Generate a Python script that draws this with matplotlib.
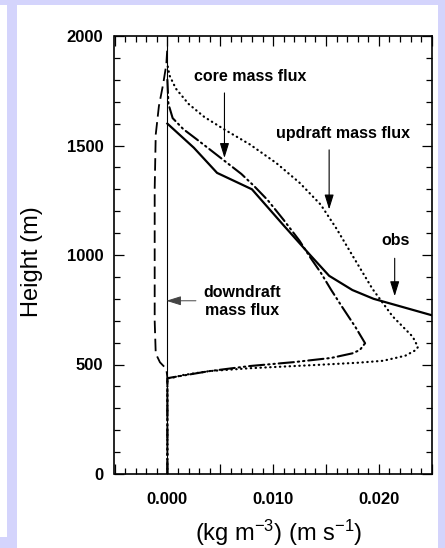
import matplotlib
matplotlib.use("Agg")
import matplotlib.pyplot as plt
from matplotlib.patches import Rectangle
from matplotlib.ticker import MultipleLocator, FixedLocator, FuncFormatter

plt.rcParams['font.family'] = ['Liberation Sans', 'DejaVu Sans']
plt.rcParams['mathtext.fontset'] = 'custom'
plt.rcParams['mathtext.rm'] = 'Liberation Sans'
plt.rcParams['mathtext.default'] = 'regular'
plt.rcParams['lines.scale_dashes'] = False

# ---- data ----
obs_x = [0.0, 0.0025, 0.0047, 0.0080, 0.0110, 0.0135, 0.0153, 0.0175, 0.0195, 0.0250]
obs_y = [1600, 1490, 1375, 1300, 1135, 1000, 905, 840, 800, 725]

core_x = [0.0, 0.0, 0.0003, 0.0040, 0.0078, 0.0120, 0.0155, 0.0175, 0.0182, 0.0187,
          0.0178, 0.0165, 0.0155, 0.0145, 0.0135, 0.0125, 0.0110, 0.0095, 0.0082,
          0.0070, 0.0050, 0.0030, 0.0015, 0.0005, 0.0001, 0.0]
core_y = [0, 437, 440, 470, 493, 511, 530, 551, 566, 597,
          670, 765, 840, 920, 990, 1065, 1160, 1250, 1315,
          1370, 1445, 1520, 1575, 1625, 1690, 1800]

up_x = [0.0, 0.0, 0.0005, 0.0015, 0.0040, 0.0078, 0.0141, 0.0180, 0.0204, 0.0225,
        0.0235, 0.0237, 0.0232, 0.0213, 0.0194, 0.0176, 0.0160, 0.0145, 0.0125,
        0.0103, 0.0078, 0.0055, 0.0035, 0.0020, 0.0008, 0.0002, 0.0]
up_y = [0, 437, 440, 452, 470, 483, 498, 508, 517, 540,
        566, 580, 627, 720, 845, 990, 1120, 1230, 1330,
        1420, 1505, 1570, 1630, 1690, 1760, 1820, 1870]

down_x = [0.0, 0.0, -0.0001, -0.0007, -0.0011, -0.0012, -0.0012, -0.0012,
          -0.0011, -0.0008, -0.0004, -0.0001, 0.0]
down_y = [0, 440, 480, 510, 550, 700, 1000, 1300, 1550, 1680, 1780, 1870, 1950]

x_ticks_labeled = [0.000, 0.010, 0.020]
y_ticks = [0, 500, 1000, 1500, 2000]

lav = '#d4d4fc'
fig = plt.figure(figsize=(4.45, 5.48), dpi=100, facecolor=lav)
fig.patches.append(Rectangle((17/445, 0), 421/445, 543/548, transform=fig.transFigure,
                             facecolor='white', edgecolor='none', zorder=-10))
fig.patches.append(Rectangle((0, 11/548), 7/445, 532/548, transform=fig.transFigure,
                             facecolor='white', edgecolor='none', zorder=-10))

ax = fig.add_axes([114.5/445, 1 - 474/548, 317.2/445, 438/548])
ax.set_zorder(5)
ax.set_facecolor('white')

ax.axvline(0, color='black', lw=0.8, zorder=1)
ax.plot(obs_x, obs_y, color='black', lw=1.6, solid_joinstyle='miter')
ax.plot(core_x, core_y, color='black', lw=1.5,
        dashes=(11, 2.8, 1.0, 2.8, 1.0, 2.8), dash_capstyle='round')
ax.plot(up_x, up_y, color='black', lw=1.6, dashes=(0.3, 3.2), dash_capstyle='round')
ax.plot(down_x, down_y, color='black', lw=1.3, dashes=(9, 4))

ax.set_xlim(-0.005, 0.025)
ax.set_ylim(0, 2000)

ax.xaxis.set_major_locator(MultipleLocator(0.005))
ax.xaxis.set_minor_locator(MultipleLocator(0.001))
ax.xaxis.set_major_formatter(FuncFormatter(
    lambda v, p: ('%.3f' % v) if any(abs(v - t) < 1e-9 for t in x_ticks_labeled) else ''))
ax.yaxis.set_major_locator(FixedLocator(y_ticks))
ax.yaxis.set_minor_locator(MultipleLocator(100))
ax.yaxis.set_major_formatter(FuncFormatter(lambda v, p: '%d' % v))

ax.tick_params(which='both', direction='in', top=True, right=True, width=0.9)
ax.tick_params(which='major', length=7)
ax.tick_params(which='minor', length=4)
ax.tick_params(axis='x', which='major', pad=13)
ax.tick_params(axis='y', which='major', pad=8)
for lab in ax.get_xticklabels() + ax.get_yticklabels():
    lab.set_fontweight('bold')
    lab.set_fontsize(12)
for s in ax.spines.values():
    s.set_linewidth(1.2)

ax.set_ylabel('Height (m)', fontsize=17)
ax.set_xlabel('(kg m$^{-3}$) (m s$^{-1}$)', fontsize=17)
ax.yaxis.set_label_coords(-0.224, 0.485)
ax.xaxis.set_label_coords(0.519, -0.10)

tkw = dict(fontsize=11.5, fontweight='bold', ha='center', va='center')
akw = dict(arrowstyle='-|>,head_length=0.9,head_width=0.28', color='black', lw=0.8,
           shrinkA=0, shrinkB=0)
ax.text(0.0078, 1817, 'core mass flux', **tkw)
ax.text(0.0166, 1553, 'updraft mass flux', **tkw)
ax.text(0.0216, 1068, 'obs', **tkw)
ax.text(0.0071, 786, 'downdraft\nmass flux', linespacing=1.25, **tkw)

ax.annotate('', xy=(0.0054, 1443), xytext=(0.0054, 1740), arrowprops=akw)
ax.annotate('', xy=(0.0153, 1208), xytext=(0.0153, 1480), arrowprops=akw)
ax.annotate('', xy=(0.0215, 812), xytext=(0.0215, 985), arrowprops=akw)
ax.annotate('', xy=(-0.0001, 791), xytext=(0.0027, 791),
            arrowprops=dict(akw, color='#444444', lw=0.7))

fig.savefig('out.png', dpi=100, facecolor=lav)
